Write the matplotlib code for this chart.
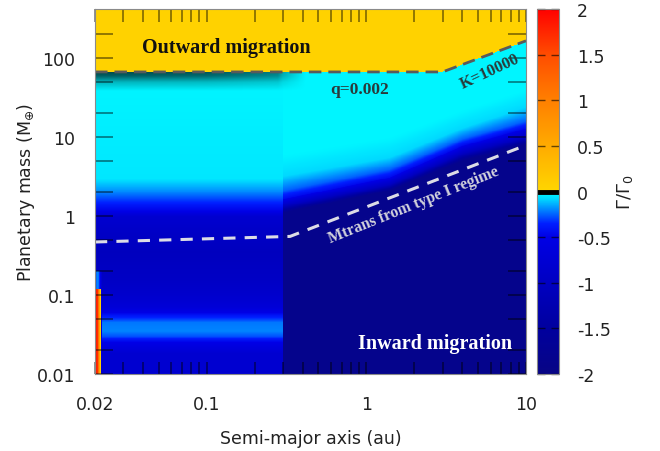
import numpy as np
import matplotlib
matplotlib.use("Agg")
import matplotlib.pyplot as plt
from matplotlib.colors import LinearSegmentedColormap, Normalize
from matplotlib.ticker import FixedLocator, NullFormatter

# ---------------- data ----------------
a_lim = (0.02, 10.0)          # semi-major axis range (au)
m_lim = (0.01, 420.0)         # planetary mass range (M_earth)

# outward / inward boundary: q = 0.002 then K = 10000
a_out = [0.02, 3.0, 10.0]
m_out = [67.0, 67.0, 166.0]

# transition mass from the type I regime
a_trans = [0.02, 0.333, 10.0]
m_trans = [0.47, 0.553, 7.9]

a_break = 0.3                 # discontinuity in the disc model
gamma_outward = 0.05          # torque in the outward-migration region

# inner region (a < a_break): torque versus planet mass
m_left = [0.01, 0.018, 0.025, 0.03, 0.035, 0.045, 0.055, 0.07, 0.1, 0.15, 0.35, 0.6, 1.0, 1.15, 1.45, 2.0, 3.0, 67.0]
gamma_left = [-0.8, -0.8, -0.5, -0.28, -0.2, -0.22, -0.4, -0.7, -0.85, -0.95, -1.05, -0.95, -0.8, -0.5, -0.36, -0.2, -0.05, -0.02]

# outer region (a > a_break): masses where the torque reaches given levels
a_iso = [0.3, 1.4, 4.0, 10.0]
gamma_iso = [-1.85, -1.0, -0.45, -0.25, -0.08, -0.02]
m_iso = [
    [1.1, 2.1, 5.0, 8.0],
    [1.35, 2.5, 6.2, 10.0],
    [1.65, 3.1, 7.8, 13.0],
    [2.1, 3.9, 9.5, 16.0],
    [3.2, 5.5, 13.0, 24.0],
    [6.0, 10.0, 22.0, 40.0],
]
gamma_below_trans_outer = -1.85

# hot strip at the inner edge
a_strip = [0.02, 0.0208, 0.0212, 0.0216, 0.022]
gamma_strip_low = [2.0, 1.7, 0.9, 0.2, -0.8]      # M < 0.12
gamma_strip_mid = [-0.3, -0.2, -0.25, -0.5, -0.8]  # 0.12 < M < 0.2
m_strip = [0.12, 0.2]

# dark shading just below the q = 0.002 line (inner disc)
a_shade = [0.02, 0.1, 0.28, 0.3, 0.42]
shade_a = [0.72, 0.66, 0.5, 0.32, 0.0]
dex_shade = [0.0, 0.05, 0.12, 0.24]
shade_d = [1.0, 0.85, 0.4, 0.0]

cbar_ticks = [2, 1.5, 1, 0.5, 0, -0.5, -1, -1.5, -2]
cbar_labels = ["2", "1.5", "1", "0.5", "0", "-0.5", "-1", "-1.5", "-2"]
x_ticks = [0.02, 0.1, 1, 10]
x_labels = ["0.02", "0.1", "1", "10"]
y_ticks = [0.01, 0.1, 1, 10, 100]
y_labels = ["0.01", "0.1", "1", "10", "100"]

# ---------------- colormap ----------------
cmap_nodes = [
    (-2.0, (0.03, 0.02, 0.52)),
    (-1.5, (0.0, 0.0, 0.62)),
    (-1.0, (0.0, 0.0, 0.76)),
    (-0.5, (0.0, 0.0, 0.90)),
    (-0.35, (0.0, 0.12, 1.0)),
    (-0.2, (0.0, 0.52, 1.0)),
    (-0.08, (0.0, 0.85, 1.0)),
    (-0.0005, (0.0, 1.0, 1.0)),
    (0.0005, (1.0, 0.84, 0.0)),
    (0.5, (1.0, 0.67, 0.0)),
    (1.0, (1.0, 0.50, 0.0)),
    (1.5, (1.0, 0.30, 0.0)),
    (2.0, (1.0, 0.0, 0.0)),
]
cmap = LinearSegmentedColormap.from_list(
    "gamma", [((v + 2) / 4, c) for v, c in cmap_nodes], N=2048)
norm = Normalize(-2, 2)

# ---------------- field ----------------
nx, ny = 900, 760
xe = np.linspace(np.log10(a_lim[0]), np.log10(a_lim[1]), nx + 1)
ye = np.linspace(np.log10(m_lim[0]), np.log10(m_lim[1]), ny + 1)
xc = 0.5 * (xe[1:] + xe[:-1])
yc = 0.5 * (ye[1:] + ye[:-1])

la_out, lm_out = np.log10(a_out), np.log10(m_out)
lm_left = np.log10(m_left)
la_iso = np.log10(a_iso)
lm_iso = np.log10(np.array(m_iso))

G = np.zeros((ny, nx))
S = np.zeros((ny, nx))
for i, x in enumerate(xc):
    yb = np.interp(x, la_out, lm_out)
    if x < np.log10(a_break):
        col = np.interp(yc, lm_left, gamma_left)
    else:
        lev = np.array([np.interp(x, la_iso, row) for row in lm_iso])
        col = np.interp(yc, lev, gamma_iso, left=gamma_below_trans_outer)
    a = 10 ** x
    if a < a_strip[-1]:
        low = np.interp(a, a_strip, gamma_strip_low)
        mid = np.interp(a, a_strip, gamma_strip_mid)
        col = np.where(yc < np.log10(m_strip[0]), low,
                       np.where(yc < np.log10(m_strip[1]), mid, col))
    col = np.where(yc >= yb, gamma_outward, col)
    G[:, i] = col
    d = yb - yc
    s = np.interp(d, dex_shade, shade_d, right=0.0) * np.interp(x, np.log10(a_shade), shade_a)
    S[:, i] = np.where(d > 0, s, 0.0)

# ---------------- figure ----------------
fig = plt.figure(figsize=(6.6, 4.52), dpi=100)
ax = fig.add_axes([95 / 660, 1 - 375 / 452, 431 / 660, 365 / 452])
cax = fig.add_axes([537 / 660, 1 - 375 / 452, 22 / 660, 365 / 452])

mesh = ax.pcolormesh(10 ** xe, 10 ** ye, G, cmap=cmap, norm=norm, shading="flat", rasterized=True)
shade_cmap = LinearSegmentedColormap.from_list("shade", [(0, 0, 0, 0), (0, 0, 0, 1)])
ax.pcolormesh(10 ** xe, 10 ** ye, S, cmap=shade_cmap, vmin=0, vmax=1, shading="flat", rasterized=True)

ax.set_xscale("log")
ax.set_yscale("log")
ax.set_xlim(*a_lim)
ax.set_ylim(*m_lim)

# boundary lines
ax.plot(a_out, m_out, color="#5a5a5a", lw=2.0, dashes=(4.5, 2.5))
ax.plot(a_trans, m_trans, color="#dcdce6", lw=2.2, dashes=(4, 3))

serif = dict(family="Liberation Serif", weight="bold")
ax.text(0.132, 138, "Outward migration", ha="center", va="center", fontsize=14.5, color="#111111", **serif)
ax.text(0.91, 40.5, "q=0.002", ha="center", va="center", fontsize=12.5, color="#2a3a3a", **serif)
ax.text(5.95, 68.4, "K=10000", ha="center", va="center", fontsize=12, color="#2a3a3a", rotation=25, **serif)
ax.text(1.99, 1.42, "Mtrans from type I regime", ha="center", va="center", fontsize=11.5,
        color="#d2d2dc", rotation=22, **serif)
ax.text(2.69, 0.0247, "Inward migration", ha="center", va="center", fontsize=14.5, color="white", **serif)

ax.xaxis.set_major_locator(FixedLocator(x_ticks))
ax.set_xticklabels(x_labels)
ax.xaxis.set_minor_locator(FixedLocator([m * 10.0 ** k for k in range(-2, 1) for m in range(2, 10)]))
ax.xaxis.set_minor_formatter(NullFormatter())
ax.yaxis.set_major_locator(FixedLocator(y_ticks))
ax.set_yticklabels(y_labels)
ax.yaxis.set_minor_locator(FixedLocator([m * 10.0 ** k for k in range(-2, 3) for m in (2, 5)]))
ax.yaxis.set_minor_formatter(NullFormatter())

tick_col = (0, 0, 0, 0.55)
ax.tick_params(which="both", direction="in", top=True, right=True, color=tick_col, width=1.1,
               labelsize=12.5, labelcolor="#222222")
ax.tick_params(axis="y", which="both", length=13, pad=14)
ax.tick_params(axis="x", which="both", length=9, pad=15)
for sp in ax.spines.values():
    sp.set_color("#8a8a8a")
    sp.set_linewidth(0.8)

ax.set_xlabel("Semi-major axis (au)", fontsize=12.5, color="#222222", labelpad=12)
ax.set_ylabel(r"Planetary mass (M$_{\oplus}$)", fontsize=12.5, color="#222222", labelpad=0)

cb = fig.colorbar(mesh, cax=cax)
cb.set_ticks(cbar_ticks)
cb.set_ticklabels(cbar_labels)
cb.outline.set_edgecolor("#8a8a8a")
cb.outline.set_linewidth(0.8)
cax.tick_params(direction="in", left=True, right=True, length=6, width=1.0, color=(0, 0, 0, 0.6),
                labelsize=12.5, labelcolor="#222222", pad=13)
cax.axhline(0, color="black", lw=3.5)
cb.set_label(r"$\Gamma/\Gamma_0$", fontsize=13, color="#222222", labelpad=3)

fig.savefig("out.png", dpi=100)
